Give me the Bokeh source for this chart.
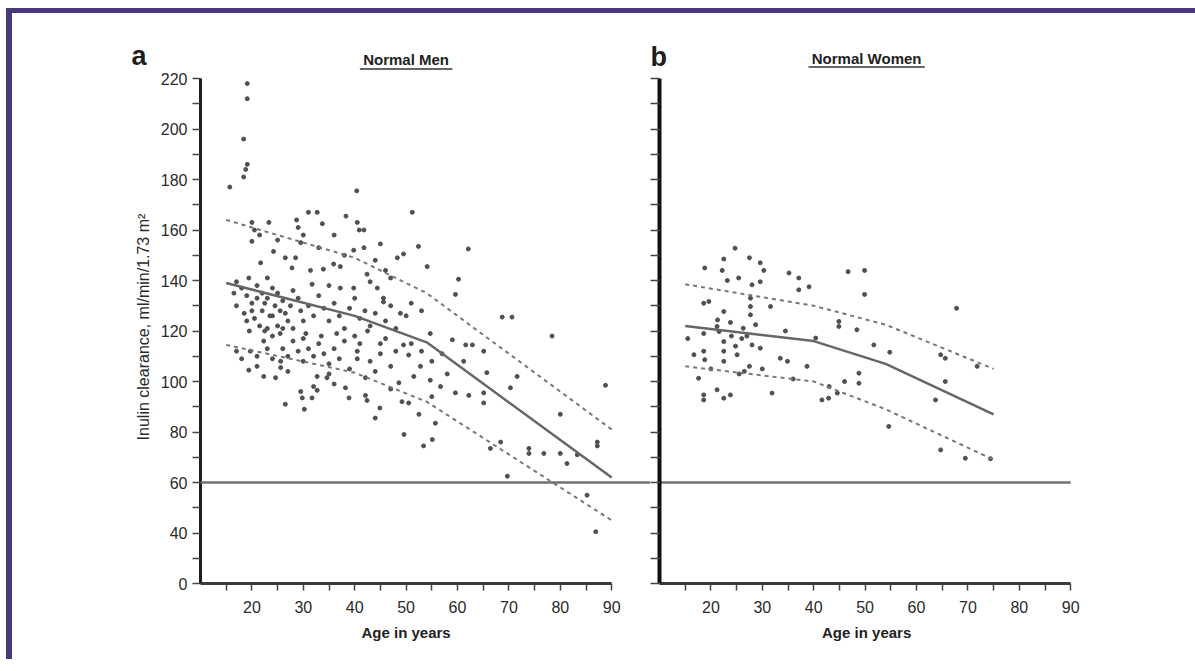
from bokeh.plotting import figure
from bokeh.layouts import row, column
from bokeh.models import FixedTicker, Span
from bokeh.core.properties import value
from bokeh.embed import file_html
from bokeh.resources import INLINE

FONT = "Liberation Sans"

# ---------------- data ----------------
men_points = [
    (19.1, 218), (19.1, 212), (18.4, 196), (19.1, 186), (18.8, 184), (18.4, 181), (15.7, 177), (40.4, 175.5),
    (31.0, 167), (32.7, 167), (51.2, 167), (38.3, 165.5), (40.5, 163), (20.0, 163), (23.3, 163), (28.7, 164),
    (29.0, 161), (33.7, 162.5), (40.9, 160), (41.8, 160), (20.5, 160), (21.5, 158), (30.0, 158), (36.0, 158),
    (45.0, 154.5), (48.3, 149), (20.0, 155.5), (21.7, 147), (24.2, 151.5), (26.5, 149), (28.5, 149), (27.8, 145),
    (31.4, 144), (33.9, 144.5), (35.9, 146.5), (37.2, 145.5), (39.8, 152), (41.8, 153), (42.4, 142.5), (52.4, 153.5),
    (62.1, 152.5), (49.5, 150.5), (54.1, 145.5), (60.2, 140.5), (44.0, 148), (46.0, 144), (38.0, 150), (33.0, 153),
    (29.5, 155), (25.0, 156), (43.0, 139.5), (47.0, 141), (23.0, 141), (17.0, 139.5),
    (19.4, 141), (39.8, 137), (44.4, 137), (45.6, 133), (37.2, 137), (31.7, 138.5), (59.6, 134.5), (45.6, 131.5),
    (48.9, 127), (68.7, 125.5), (70.6, 125.5), (54.7, 119), (59.0, 116.5), (61.6, 114.5), (62.9, 114.5), (78.4, 118),
    (18.0, 137), (19.0, 134), (20.0, 131), (21.0, 138), (22.0, 135), (22.0, 128), (23.0, 133), (23.5, 126),
    (24.0, 137), (24.5, 130), (25.0, 135), (25.0, 122), (26.0, 132), (26.5, 127), (20.5, 125), (21.5, 122),
    (19.5, 120), (18.5, 127), (17.0, 130), (16.5, 135), (22.5, 120), (24.0, 118), (25.5, 119), (27.0, 124),
    (27.5, 130), (28.0, 136), (29.0, 133), (29.5, 128), (30.0, 124), (31.0, 130), (32.0, 126), (33.0, 134),
    (34.0, 129), (35.0, 124), (36.0, 131), (37.0, 126), (38.0, 121), (39.0, 129), (40.0, 133), (41.0, 125),
    (42.0, 128), (43.0, 122), (44.0, 127), (46.0, 124), (47.0, 130), (48.0, 121), (50.0, 126), (51.0, 131),
    (53.0, 128), (35.0, 138), (28.0, 121), (30.5, 119), (33.5, 118), (36.5, 119), (40.0, 118), (42.5, 120),
    (19.0, 124), (20.0, 128), (21.0, 133), (23.0, 121), (24.0, 126), (26.0, 121), (22.5, 131), (25.5, 128),
    (19.7, 112), (19.4, 104.5), (22.3, 102), (24.6, 101.5), (22.3, 116), (25.6, 108), (25.6, 105.5), (32.7, 102),
    (34.6, 101.5), (40.5, 112), (40.5, 109), (45.0, 115), (45.0, 111), (49.5, 114.5), (50.5, 110.5), (61.2, 108),
    (65.1, 112), (65.7, 103.5), (71.6, 102), (52.8, 106), (51.5, 102), (54.7, 100.5), (42.1, 101.5),
    (17.0, 112), (18.0, 109), (21.0, 110), (23.0, 113), (24.0, 109), (26.0, 113), (27.0, 110), (28.0, 116),
    (29.0, 112), (30.0, 108), (31.0, 113), (32.0, 110), (33.0, 115), (34.0, 111), (35.0, 107), (36.0, 113),
    (37.0, 109), (38.0, 116), (39.0, 105), (41.0, 115), (43.0, 108), (44.0, 104), (46.0, 117), (47.0, 106),
    (48.0, 112), (51.0, 115), (53.0, 112), (55.0, 108), (57.0, 111), (58.0, 103), (27.0, 104), (35.0, 103),
    (30.0, 117), (21.0, 106),
    (26.5, 91), (29.5, 96), (29.8, 93.5), (30.2, 89), (32.0, 98), (32.7, 96.5), (31.7, 93.5), (38.2, 97.5),
    (38.9, 93.5), (42.1, 94.5), (42.4, 92.5), (44.0, 85.5), (44.9, 89.5), (56.7, 98), (59.6, 95.5), (62.2, 94.5),
    (65.1, 95.5), (65.1, 91.5), (70.3, 97.5), (88.8, 98.5), (80.0, 87), (48.6, 99.5), (49.2, 92), (50.5, 91.5),
    (52.5, 87), (55.7, 83.5), (49.6, 79), (53.4, 74.5), (55.1, 77), (66.4, 73.5), (68.4, 76), (73.9, 73.5),
    (73.9, 71.5), (76.8, 71.5), (80.0, 71.5), (83.3, 71), (87.2, 76), (87.2, 74.5), (81.3, 67.5), (69.7, 62.5),
    (85.2, 55), (86.9, 40.5), (47.0, 97), (36.0, 99), (55.0, 94),
]
men_age = [a for a, _ in men_points]
men_clearance = [v for _, v in men_points]

women_points = [
    (24.7, 152.8), (18.8, 145), (22.5, 148.5), (22.2, 144), (27.5, 149), (29.6, 147), (30.3, 144), (35.2, 143),
    (37.1, 141), (46.7, 143.5), (49.9, 144), (23.2, 140), (25.4, 141), (29.6, 139.5), (28.0, 138.3), (37.1, 136.3),
    (39.1, 137.5), (49.9, 134.5), (18.6, 131), (19.6, 131.7), (31.6, 129.7), (22.5, 127.7), (27.7, 133),
    (27.7, 129.7), (27.7, 126.4), (44.9, 123.8), (44.9, 121.8), (21.3, 124.4), (21.2, 121.8), (23.8, 123.4),
    (26.3, 121.1), (28.7, 122.5), (48.4, 120.5), (51.7, 114.5), (18.6, 119), (15.5, 117), (21.6, 119.8),
    (34.5, 120), (40.4, 117.2), (16.7, 110.6), (18.6, 112), (18.8, 108.6), (22.5, 115.8), (22.5, 112),
    (22.5, 108), (24.8, 114), (25.1, 110.6), (28.0, 114.5), (29.6, 113.2), (33.5, 109.2), (34.9, 108),
    (38.7, 106), (48.8, 103.3), (48.8, 99.3), (17.6, 101.3), (31.9, 95.4), (18.6, 94.7), (18.6, 92.7),
    (21.2, 96.7), (22.5, 93.4), (23.8, 94.7), (41.6, 92.7), (42.9, 93.4), (44.6, 95.4), (67.8, 129),
    (54.8, 111.6), (64.7, 110.6), (65.6, 109.2), (71.8, 106), (65.6, 100), (63.7, 92.7), (54.6, 82.2),
    (64.7, 72.9), (69.5, 69.6), (74.4, 69.4), (26.5, 104), (27.5, 106), (25.5, 103), (30.0, 105), (20.0, 105),
    (36.0, 101), (43.0, 98), (46.0, 100), (26.0, 117), (27.0, 118), (24.0, 118),
]
women_age = [a for a, _ in women_points]
women_clearance = [v for _, v in women_points]

men_fit_age = [15, 40, 54, 90]
men_mean = [139, 126, 115.5, 62]
men_upper = [164, 149, 135, 81]
men_lower = [114.5, 103.5, 92, 45]

women_fit_age = [15, 40, 54, 75]
women_mean = [122, 116, 107, 87]
women_upper = [138.5, 130, 122.5, 105]
women_lower = [106, 100, 89, 69]

threshold = 60
age_axis = [10, 90]
age_ticks = [20, 30, 40, 50, 60, 70, 80, 90]
age_minor = [15, 25, 35, 45, 55, 65, 75, 85]
y_axis = [20, 220]
y_ticks = [20, 40, 60, 80, 100, 120, 140, 160, 180, 200, 220]
y_minor = [30, 50, 70, 90, 110, 130, 150, 170, 190, 210]
y_labels = {20: "0"}

panel_letters = ["a", "b"]
panel_titles = ["Normal Men", "Normal Women"]
x_title = "Age in years"
y_title = "Inulin clearance, ml/min/1.73 m²"

# ---------------- layout constants (pixels) ----------------
PURPLE = "#483878"
PT = "#505050"
LINE = "#666666"
SCALE_X = 5.14          # px per year
SCALE_Y = 2.525         # px per ml/min
A_LEFT = 188            # left border of panel a
A_FRAME = 450           # frame width of panel a
B_LEFT = 9
B_FRAME = 536
FRAME_H = 505
HEADER_H = 57
BOTTOM = 36
FOOTER_H = 40
TOTAL_W = A_LEFT + A_FRAME + B_LEFT + B_FRAME
B_SHIFT = (A_FRAME + B_LEFT) / SCALE_X      # panel b origin, in panel-a years
X0 = age_axis[0] - A_LEFT / SCALE_X          # left edge of page in panel-a years


def style_x(p):
    ax = p.xaxis[0]
    ax.ticker = FixedTicker(ticks=age_ticks, minor_ticks=age_minor)
    ax.bounds = tuple(age_axis)
    ax.axis_line_width = 3
    ax.axis_line_color = "#3a3a3a"
    ax.major_tick_line_color = "#444444"
    ax.minor_tick_line_color = "#444444"
    ax.major_tick_line_width = 1.5
    ax.minor_tick_line_width = 1.5
    ax.major_tick_in = 0
    ax.major_tick_out = 7
    ax.minor_tick_in = 0
    ax.minor_tick_out = 7
    ax.major_label_standoff = 10
    ax.major_label_text_font = FONT
    ax.major_label_text_font_size = "16px"
    ax.major_label_text_color = "#2a2a2a"


def style_y(ax, line_w, tick_len):
    ax.ticker = FixedTicker(ticks=y_ticks, minor_ticks=y_minor)
    ax.bounds = tuple(y_axis)
    ax.axis_line_width = line_w
    ax.axis_line_color = "#1e1e1e"
    ax.major_tick_line_color = "#444444"
    ax.minor_tick_line_color = "#444444"
    ax.major_tick_line_width = 1.5
    ax.minor_tick_line_width = 1.5
    ax.major_tick_in = 0
    ax.major_tick_out = tick_len
    ax.minor_tick_in = 0
    ax.minor_tick_out = tick_len


def make_panel(left_border, frame_w):
    p = figure(width=left_border + frame_w, height=FRAME_H + 8 + BOTTOM,
               x_range=(age_axis[0], age_axis[0] + frame_w / SCALE_X),
               y_range=(y_axis[0], y_axis[0] + (FRAME_H + 8) / SCALE_Y),
               output_backend="svg", toolbar_location=None,
               min_border_left=left_border, min_border_right=0,
               min_border_top=0, min_border_bottom=BOTTOM)
    p.grid.visible = False
    p.outline_line_color = None
    p.background_fill_color = "white"
    p.border_fill_color = "white"
    style_x(p)
    return p


# ---------------- panel a ----------------
pa = make_panel(A_LEFT, A_FRAME)
ya = pa.yaxis[0]
style_y(ya, 3, 8)
ya.major_label_overrides = y_labels
ya.major_label_standoff = 5
ya.major_label_text_font = FONT
ya.major_label_text_font_size = "16px"
ya.major_label_text_color = "#2a2a2a"
ya.axis_label = y_title
ya.axis_label_text_font = FONT
ya.axis_label_text_font_size = "16px"
ya.axis_label_text_font_style = "normal"
ya.axis_label_text_color = "#2a2a2a"
ya.axis_label_standoff = 6

pa.add_layout(Span(location=threshold, dimension="width", line_color="#707070", line_width=2.5))
pa.scatter(men_age, men_clearance, size=4, color=PT)
pa.line(men_fit_age, men_mean, line_color=LINE, line_width=2.5)
pa.line(men_fit_age, men_upper, line_color="#777777", line_width=2, line_dash="4 4")
pa.line(men_fit_age, men_lower, line_color="#777777", line_width=2, line_dash="4 4")

# ---------------- panel b ----------------
pb = make_panel(B_LEFT, B_FRAME)
yb = pb.yaxis[0]
style_y(yb, 4, 9)
yb.axis_line_color = "#111111"
yb.major_label_standoff = 0
yb.major_label_text_font_size = "0px"
yb.major_label_overrides = {t: "" for t in y_ticks}

pb.line(age_axis, [threshold, threshold], line_color="#707070", line_width=2.5)
pb.scatter(women_age, women_clearance, size=4, color=PT)
pb.line(women_fit_age, women_mean, line_color=LINE, line_width=2.5)
pb.line(women_fit_age, women_upper, line_color="#777777", line_width=2, line_dash="4 4")
pb.line(women_fit_age, women_lower, line_color="#777777", line_width=2, line_dash="4 4")


# ---------------- header / footer strips (same x scale as panels) ----------------
def strip(h):
    p = figure(width=TOTAL_W, height=h, x_range=(X0, X0 + TOTAL_W / SCALE_X), y_range=(0, h),
               output_backend="svg", toolbar_location=None,
               x_axis_location=None, y_axis_location=None,
               min_border_left=0, min_border_right=0, min_border_top=0, min_border_bottom=0)
    p.grid.visible = False
    p.outline_line_color = None
    p.background_fill_color = "white"
    p.border_fill_color = "white"
    return p


mid = (age_axis[0] + age_axis[1]) / 2
mid_b = mid + B_SHIFT + 0.3
header = strip(HEADER_H)
header.text(x=[age_axis[0] - 11.96, age_axis[0] + B_SHIFT - 0.15], y=[15, 14], text=panel_letters,
            text_font=value(FONT), text_font_size="27px", text_font_style="bold",
            text_align="center", text_baseline="alphabetic", text_color="#1e1e1e")
header.text(x=[mid, mid_b], y=[11, 12], text=panel_titles,
            text_font=value(FONT), text_font_size="15px", text_font_style="bold",
            text_align="center", text_baseline="alphabetic", text_color="#222222")
header.segment(x0=[mid - 9, mid_b - 11.3], x1=[mid + 9, mid_b + 11.3],
               y0=[1.5, 3.5], y1=[1.5, 3.5], line_color="#333333", line_width=1.5)

footer = strip(FOOTER_H)
footer.text(x=[mid, mid_b], y=[27, 27], text=[x_title, x_title],
            text_font=value(FONT), text_font_size="15px", text_font_style="bold",
            text_align="center", text_baseline="alphabetic", text_color="#222222")

layout = column(header, row(pa, pb), footer,
                styles={"margin-left": "6px", "margin-top": "8px",
                        "border-top": f"5px solid {PURPLE}", "border-left": f"6px solid {PURPLE}",
                        "background-color": "white"})

open("out.html", "w").write(file_html(layout, INLINE))
